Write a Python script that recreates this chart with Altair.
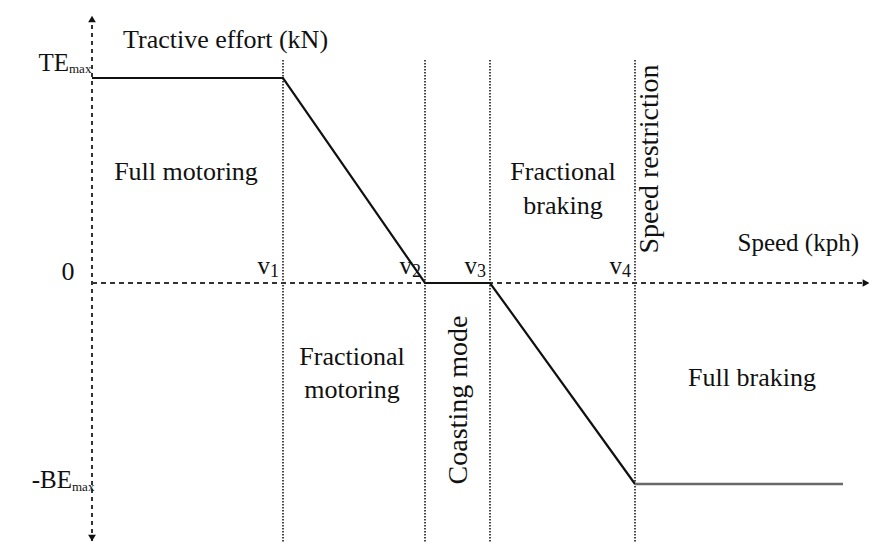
import altair as alt
import pandas as pd

# ---- data (speed / effort in diagram units) ----
curve_speed = [0, 191, 333, 398, 543]
curve_effort = [205, 205, 0, 0, -201]
tail_speed = [543, 751]
tail_effort = [-201, -201]

boundary_speed = [191, 333, 398, 543]
boundary_digit = ["1", "2", "3", "4"]
boundary_top = 223
boundary_bottom = -270

te_max = 205
be_max = -201

region_text = ["Full motoring", "Fractional", "motoring", "Fractional", "braking", "Full braking"]
region_x = [94, 260, 260, 471, 471, 660]
region_y = [111, -74, -107, 111, 77, -95]

rot_text = ["Coasting mode", "Speed restriction"]
rot_x = [367, 558]
rot_y = [-117, 124]

FONT = "Liberation Serif"
FS = 26
XS = alt.Scale(domain=[-84, 777], nice=False, zero=False)
YS = alt.Scale(domain=[-260, 275], nice=False, zero=False)


def ex(field="x"):
    return alt.X(f"{field}:Q", scale=XS, axis=None)


def ey(field="y"):
    return alt.Y(f"{field}:Q", scale=YS, axis=None)


def txt(df, **kw):
    base = dict(font=FONT, fontSize=FS, color="#111111", baseline="middle")
    base.update(kw)
    return alt.Chart(df).mark_text(**base).encode(x=ex(), y=ey(), text="t:N")


# curve
cdf = pd.DataFrame({"x": curve_speed, "y": curve_effort, "o": list(range(len(curve_speed)))})
curve = alt.Chart(cdf).mark_line(strokeWidth=2.2, color="#111111").encode(
    x=ex(), y=ey(), order="o:Q"
)
tdf = pd.DataFrame({"x": tail_speed, "y": tail_effort})
tail = alt.Chart(tdf).mark_line(strokeWidth=2.4, color="#6a6a6a").encode(x=ex(), y=ey())

# axes
ydf = pd.DataFrame({"x": [0], "y": [-258], "y2": [262]})
yaxis = alt.Chart(ydf).mark_rule(strokeWidth=2, strokeDash=[4, 4], color="#333333").encode(
    x=ex(), y=ey(), y2="y2:Q"
)
xdf = pd.DataFrame({"x": [0], "x2": [776], "y": [0]})
xaxis = alt.Chart(xdf).mark_rule(strokeWidth=2, strokeDash=[5, 4], color="#333333").encode(
    x=ex(), x2="x2:Q", y=ey()
)
up = alt.Chart(pd.DataFrame({"x": [0], "y": [264]})).mark_point(
    shape="triangle-up", filled=True, size=60, color="#111111", opacity=1
).encode(x=ex(), y=ey())
down = alt.Chart(pd.DataFrame({"x": [0], "y": [-255]})).mark_point(
    shape="triangle-down", filled=True, size=60, color="#111111", opacity=1
).encode(x=ex(), y=ey())
right = alt.Chart(pd.DataFrame({"x": [774], "y": [0]})).mark_point(
    shape="triangle-right", filled=True, size=60, color="#111111", opacity=1
).encode(x=ex(), y=ey())

# boundaries
b_df = pd.DataFrame({"x": boundary_speed, "d": boundary_digit,
                     "top": [boundary_top] * 4, "bot": [boundary_bottom] * 4,
                     "zero": [0] * 4})
bounds = alt.Chart(b_df).mark_rule(strokeWidth=1.8, strokeDash=[1.5, 1.5], color="#333333").encode(
    x=ex(), y=ey("top"), y2="bot:Q"
)
v_lab = alt.Chart(b_df).mark_text(text="v", font=FONT, fontSize=25, align="right",
                                  baseline="alphabetic", dx=-13, dy=-9, color="#111111").encode(
    x=ex(), y=ey("zero")
)
d_lab = alt.Chart(b_df).mark_text(font=FONT, fontSize=18, align="right",
                                  baseline="alphabetic", dx=-4, dy=-6, color="#111111").encode(
    x=ex(), y=ey("zero"), text="d:N"
)

# region labels
regions = txt(pd.DataFrame({"t": region_text, "x": region_x, "y": region_y}), align="center")
rots = txt(pd.DataFrame({"t": rot_text, "x": rot_x, "y": rot_y}), align="center", angle=270,
           fontSize=28)

# axis labels
labs_left = txt(pd.DataFrame({"t": ["Tractive effort (kN)"], "x": [31], "y": [243]}), align="left")
labs_speed = txt(pd.DataFrame({"t": ["Speed (kph)"], "x": [767], "y": [40]}), align="right",
                 fontSize=25)
labs_c = txt(pd.DataFrame({"t": ["0"], "x": [-24], "y": [11]}), align="center")
labs_r = txt(pd.DataFrame({"t": ["TE", "-BE"], "x": [-23, -20],
                           "y": [te_max + 15, be_max + 4]}), align="right", fontSize=25)
subs = txt(pd.DataFrame({"t": ["max", "max"], "x": [-23, -20],
                         "y": [te_max + 9, be_max - 3]}), align="left", fontSize=13)

chart = alt.layer(
    yaxis, xaxis, bounds, curve, tail, up, down, right,
    v_lab, d_lab, regions, rots, labs_left, labs_speed, labs_c, labs_r, subs
).properties(
    width=861, height=535,
    autosize=alt.AutoSizeParams(type="none"),
    padding=0,
).configure_view(stroke=None)

chart.save("out.html", embed_options={"renderer": "svg", "actions": False})
